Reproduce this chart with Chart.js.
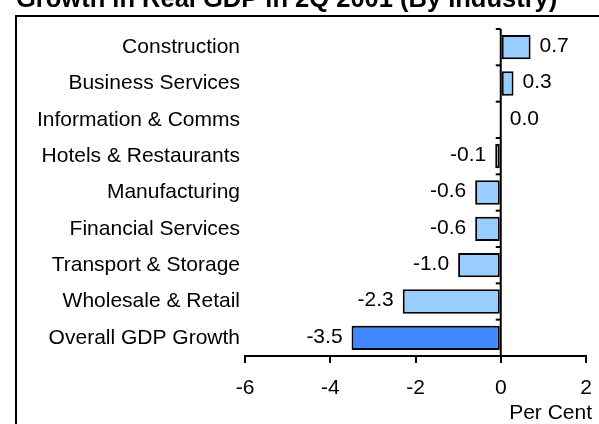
<!DOCTYPE html>
<html>
<head>
<meta charset="utf-8">
<script src="https://cdn.jsdelivr.net/npm/chart.js@4"></script>
<style>
  html, body { margin: 0; padding: 0; background: #fff; }
  #c { display: block; }
</style>
</head>
<body>
<canvas id="c" width="599" height="424"></canvas>
<script>
const chartTitle = 'Growth in Real GDP in 2Q 2001 (By Industry)';
const categories = ['Construction', 'Business Services', 'Information & Comms', 'Hotels & Restaurants', 'Manufacturing', 'Financial Services', 'Transport & Storage', 'Wholesale & Retail', 'Overall GDP Growth'];
const values = [0.7, 0.3, 0.0, -0.13, -0.6, -0.6, -1.0, -2.3, -3.5];
const xTickValues = [-6, -4, -2, 0, 2];
const xAxisTitle = 'Per Cent';

const LIGHT = '#99CCFF';
const DARK = '#4287FF';
const FONT = "'Liberation Sans', Arial, sans-serif";
const barColors = categories.map((c, i) => i === categories.length - 1 ? DARK : LIGHT);

const framePlugin = {
  id: 'frame',
  beforeDraw(chart) {
    const ctx = chart.ctx;
    ctx.save();
    ctx.fillStyle = '#000';
    ctx.fillRect(15, 15, chart.width - 15, 2);
    ctx.fillRect(15, 15, 2, chart.height - 15);
    ctx.font = "bold 25.5px " + FONT;
    ctx.textAlign = 'left';
    ctx.textBaseline = 'alphabetic';
    ctx.fillText(chartTitle, 16, 7);
    ctx.restore();
  }
};

const axisTicksPlugin = {
  id: 'zeroTicks',
  afterDatasetsDraw(chart) {
    const ctx = chart.ctx;
    const xs = chart.scales.x, ys = chart.scales.y;
    const x0 = xs.getPixelForValue(0);
    const n = categories.length;
    const rowH = (ys.bottom - ys.top) / n;
    ctx.save();
    ctx.strokeStyle = '#000';
    ctx.lineWidth = 2;
    for (let i = 0; i < n; i++) {
      const y = ys.top + i * rowH;
      ctx.beginPath();
      ctx.moveTo(x0 - 5, y);
      ctx.lineTo(x0, y);
      ctx.stroke();
    }
    ctx.beginPath();
    ctx.moveTo(x0, ys.top);
    ctx.lineTo(x0, ys.bottom);
    ctx.stroke();
    // value labels
    ctx.fillStyle = '#000';
    ctx.font = "21px " + FONT;
    ctx.textBaseline = 'middle';
    const meta = chart.getDatasetMeta(0);
    meta.data.forEach((bar, i) => {
      const v = values[i];
      const txt = v.toFixed(1);
      if (v >= 0) {
        ctx.textAlign = 'left';
        ctx.fillText(txt, bar.x + 9, bar.y - 1);
      } else {
        ctx.textAlign = 'right';
        ctx.fillText(txt, bar.x - 9, bar.y - 1);
      }
    });
    // axis title
    ctx.textAlign = 'right';
    ctx.textBaseline = 'middle';
    ctx.fillText(xAxisTitle, xs.right + 6, 413);
    ctx.restore();
  }
};

new Chart(document.getElementById('c'), {
  type: 'bar',
  data: {
    labels: categories,
    datasets: [{
      data: values,
      backgroundColor: barColors,
      borderColor: '#000',
      borderWidth: 2,
      borderSkipped: false,
      barPercentage: 0.67,
      categoryPercentage: 1.0
    }]
  },
  options: {
    indexAxis: 'y',
    responsive: false,
    animation: false,
    devicePixelRatio: 1,
    layout: { padding: { top: 29, right: 13, left: 0, bottom: 0 } },
    plugins: {
      legend: { display: false },
      title: { display: false },
      tooltip: { enabled: false }
    },
    scales: {
      x: {
        type: 'linear',
        min: -6,
        max: 2,
        afterBuildTicks(scale) { scale.ticks = xTickValues.map(v => ({ value: v })); },
        afterFit(scale) { scale.height = 68; scale.paddingLeft = 0; scale.paddingRight = 0; },
        grid: {
          drawOnChartArea: false,
          drawTicks: true,
          tickLength: 7,
          tickColor: '#000',
          tickWidth: 2,
          color: '#000',
          lineWidth: 2
        },
        border: { display: true, color: '#000', width: 2 },
        ticks: {
          color: '#000',
          font: { family: FONT, size: 21 },
          padding: 13,
          maxRotation: 0,
          callback: (v) => String(v)
        }
      },
      y: {
        type: 'category',
        afterFit(scale) { scale.width = 245; scale.paddingTop = 0; scale.paddingBottom = 0; },
        grid: { display: false, drawTicks: false },
        border: { display: false },
        ticks: {
          color: '#000',
          font: { family: FONT, size: 21 },
          padding: 5
        }
      }
    }
  },
  plugins: [framePlugin, axisTicksPlugin]
});
</script>
</body>
</html>
